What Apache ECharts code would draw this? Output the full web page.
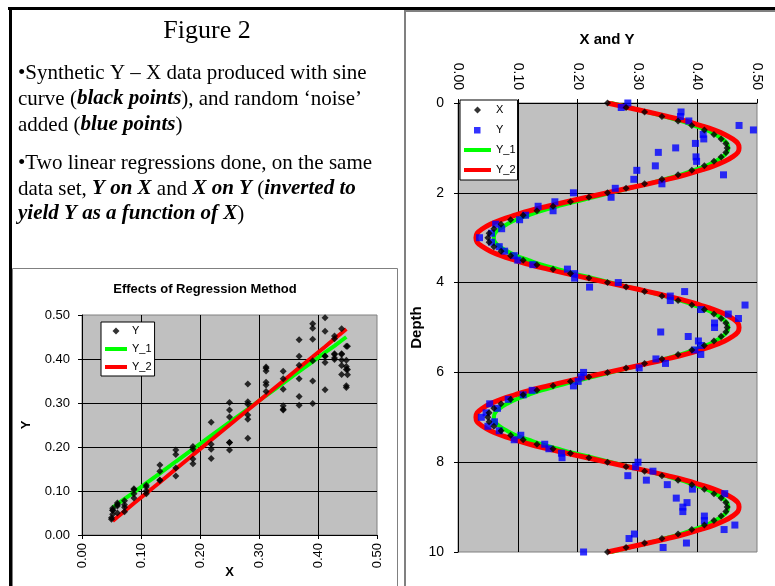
<!DOCTYPE html>
<html><head><meta charset="utf-8">
<script src="https://cdn.jsdelivr.net/npm/echarts/dist/echarts.min.js"></script>
<style>html,body{margin:0;padding:0;background:#fff}#c{width:775px;height:586px}</style>
</head><body><div id="c"></div>
<script>
// ---- data ----
const depth = [0,0.1,0.2,0.3,0.4,0.5,0.6,0.7,0.8,0.9,1,1.1,1.2,1.3,1.4,1.5,1.6,1.7,1.8,1.9,2,2.1,2.2,2.3,2.4,2.5,2.6,2.7,2.8,2.9,3,3.1,3.2,3.3,3.4,3.5,3.6,3.7,3.8,3.9,4,4.1,4.2,4.3,4.4,4.5,4.6,4.7,4.8,4.9,5,5.1,5.2,5.3,5.4,5.5,5.6,5.7,5.8,5.9,6,6.1,6.2,6.3,6.4,6.5,6.6,6.7,6.8,6.9,7,7.1,7.2,7.3,7.4,7.5,7.6,7.7,7.8,7.9,8,8.1,8.2,8.3,8.4,8.5,8.6,8.7,8.8,8.9,9,9.1,9.2,9.3,9.4,9.5,9.6,9.7,9.8,9.9,10];

// black points: synthetic sine data
const X = [0.250,0.281,0.312,0.341,0.368,0.391,0.412,0.428,0.440,0.448,0.450,
 0.448,0.440,0.428,0.412,0.391,0.368,0.341,0.312,0.281,0.250,
 0.219,0.188,0.159,0.132,0.109,0.088,0.072,0.060,0.052,0.050,
 0.052,0.060,0.072,0.088,0.109,0.132,0.159,0.188,0.219,0.250,
 0.281,0.312,0.341,0.368,0.391,0.412,0.428,0.440,0.448,0.450,
 0.448,0.440,0.428,0.412,0.391,0.368,0.341,0.312,0.281,0.250,
 0.219,0.188,0.159,0.132,0.109,0.088,0.072,0.060,0.052,0.050,
 0.052,0.060,0.072,0.088,0.109,0.132,0.159,0.188,0.219,0.250,
 0.281,0.312,0.341,0.368,0.391,0.412,0.428,0.440,0.448,0.450,
 0.448,0.440,0.428,0.412,0.391,0.368,0.341,0.312,0.281,0.250];

// blue points: data with noise
const Y = [0.284,0.273,0.373,0.372,0.386,0.470,0.494,0.410,0.411,0.397,
 0.364,0.335,0.398,0.399,0.330,0.299,0.444,0.294,0.341,0.263,
 0.193,0.256,0.162,0.134,0.159,0.113,0.103,0.063,0.073,0.056,
 0.036,0.056,0.069,0.078,0.094,0.100,0.125,0.183,0.195,0.195,
 0.268,0.220,0.379,0.355,0.355,0.480,0.406,0.452,0.469,0.429,
 0.429,0.339,0.385,0.402,0.406,0.396,0.406,0.331,0.347,0.303,
 0.210,0.206,0.201,0.193,0.124,0.109,0.084,0.053,0.066,0.047,
 0.039,0.061,0.050,0.069,0.105,0.094,0.145,0.152,0.173,0.174,
 0.301,0.297,0.326,0.284,0.315,0.350,0.392,0.446,0.365,0.383,
 0.376,0.376,0.412,0.412,0.463,0.445,0.295,0.286,0.382,0.343,
 0.210];

// regression Y on X
const Y_1 = [0.256,0.286,0.317,0.345,0.372,0.394,0.415,0.430,0.442,0.450,0.452,
 0.450,0.442,0.430,0.415,0.394,0.372,0.345,0.317,0.286,0.256,
 0.226,0.195,0.167,0.140,0.118,0.097,0.082,0.070,0.062,0.060,
 0.062,0.070,0.082,0.097,0.118,0.140,0.167,0.195,0.226,0.256,
 0.286,0.317,0.345,0.372,0.394,0.415,0.430,0.442,0.450,0.452,
 0.450,0.442,0.430,0.415,0.394,0.372,0.345,0.317,0.286,0.256,
 0.226,0.195,0.167,0.140,0.118,0.097,0.082,0.070,0.062,0.060,
 0.062,0.070,0.082,0.097,0.118,0.140,0.167,0.195,0.226,0.256,
 0.286,0.317,0.345,0.372,0.394,0.415,0.430,0.442,0.450,0.452,
 0.450,0.442,0.430,0.415,0.394,0.372,0.345,0.317,0.286,0.256];

// regression X on Y (inverted)
const Y_2 = [0.250,0.284,0.318,0.350,0.380,0.405,0.428,0.446,0.459,0.468,0.470,
 0.468,0.459,0.446,0.428,0.405,0.380,0.350,0.318,0.284,0.250,
 0.216,0.182,0.150,0.120,0.095,0.072,0.054,0.041,0.032,0.030,
 0.032,0.041,0.054,0.072,0.095,0.120,0.150,0.182,0.216,0.250,
 0.284,0.318,0.350,0.380,0.405,0.428,0.446,0.459,0.468,0.470,
 0.468,0.459,0.446,0.428,0.405,0.380,0.350,0.318,0.284,0.250,
 0.216,0.182,0.150,0.120,0.095,0.072,0.054,0.041,0.032,0.030,
 0.032,0.041,0.054,0.072,0.095,0.120,0.150,0.182,0.216,0.250,
 0.284,0.318,0.350,0.380,0.405,0.428,0.446,0.459,0.468,0.470,
 0.468,0.459,0.446,0.428,0.405,0.380,0.350,0.318,0.284,0.250];

const valueAxisRange = [0, 0.5, 0.1];
const depthAxisRange = [0, 10, 2];

const textLines = [
 '{n|•Synthetic Y – X data produced with sine}',
 '{n|curve (}{bk|black points}{n|), and random ‘noise’}',
 '{n|added (}{bl|blue points}{n|)}',
 '{n|•Two linear regressions done, on the same}',
 '{n|data set, }{g|Y on X}{n| and }{r|X on Y}{n| (}{r|inverted to}',
 '{r|yield Y as a function of X}{n|)}'
];
const textY = [73.5, 99, 125, 163, 189, 214];

// ---- chart ----
const SANS = 'Liberation Sans', SERIF = 'Liberation Serif';
const serifStyle = (c, bold) => ({fontFamily: SERIF, fontSize: 21, color: c,
  fontWeight: bold ? 'bold' : 'normal', fontStyle: bold ? 'italic' : 'normal'});
const rich = {n: serifStyle('#000', false), bk: serifStyle('#000', true),
  bl: serifStyle('#1f3fa3', true), g: serifStyle('#1aaa4a', true), r: serifStyle('#c00000', true)};

const graphic = [
  {type:'rect', shape:{x:8, y:7, width:767, height:3}, style:{fill:'#000'}},
  {type:'rect', shape:{x:9, y:7, width:3, height:579}, style:{fill:'#000'}},
  {type:'rect', shape:{x:404, y:10, width:371, height:2}, style:{fill:'#808080'}},
  {type:'rect', shape:{x:404, y:10, width:2, height:576}, style:{fill:'#808080'}},
  {type:'rect', shape:{x:12.5, y:268.5, width:385, height:330}, style:{fill:'none', stroke:'#808080', lineWidth:1}},
  {type:'text', x:207, y:31, style:{text:'Figure 2', fontFamily:SERIF, fontSize:26, fill:'#000', textAlign:'center', textVerticalAlign:'middle'}},
  {type:'text', x:205, y:289, style:{text:'Effects of Regression Method', fontFamily:SANS, fontSize:13, fontWeight:'bold', fill:'#000', textAlign:'center', textVerticalAlign:'middle'}},
  {type:'text', x:607, y:40, style:{text:'X and Y', fontFamily:SANS, fontSize:15, fontWeight:'bold', fill:'#000', textAlign:'center', textVerticalAlign:'middle'}}
];
textLines.forEach((t, i) => graphic.push({type:'text', x:18, y:textY[i],
  style:{text:t, rich:rich, textAlign:'left', textVerticalAlign:'middle'}}));

// legend icons (invisible moveTo points fix the icon box so shapes keep their size)
const diamondIcon = w => `path://M0 0 M${w} 7 M${w/2} 0 L${w/2+3.5} 3.5 L${w/2} 7 L${w/2-3.5} 3.5 Z`;
const squareIcon = w => `path://M0 0 M${w} 7 M${w/2-3.5} 0.5 L${w/2+3} 0.5 L${w/2+3} 7 L${w/2-3.5} 7 Z`;
const barIcon = w => `path://M0 0 M${w} 7 M0 1.5 L${w} 1.5 L${w} 5.5 L0 5.5 Z`;

const lbl = (fs) => ({fontFamily:SANS, fontSize:fs, color:'#000'});
const fmt2 = v => v.toFixed(2);
const axisCommon = {
  type:'value',
  axisLine:{show:true, onZero:false, lineStyle:{color:'#000', width:1}},
  axisTick:{show:true, length:4, lineStyle:{color:'#000'}},
  splitLine:{show:true, showMinLine:false, showMaxLine:false, lineStyle:{color:'#000', width:1}},
  nameTextStyle:{fontFamily:SANS, fontWeight:'bold', color:'#000'}
};
const legendText = {fontFamily:SANS, fontSize:11, lineHeight:12, color:'#000'};

const option = {
  animation:false,
  backgroundColor:'#fff',
  graphic:graphic,
  grid:[
    {left:82, top:315, width:295, height:220, show:true, backgroundColor:'#c0c0c0', borderColor:'#808080', borderWidth:1, outerBoundsMode:'none', containLabel:false},
    {left:458, top:103, width:299, height:449, show:true, backgroundColor:'#c0c0c0', borderColor:'#808080', borderWidth:1, outerBoundsMode:'none', containLabel:false}
  ],
  xAxis:[
    Object.assign({}, axisCommon, {gridIndex:0, position:'bottom', min:valueAxisRange[0], max:valueAxisRange[1], interval:valueAxisRange[2],
      axisLabel:Object.assign(lbl(13), {rotate:90, margin:8, formatter:fmt2}),
      name:'X', nameLocation:'middle', nameGap:31, nameMoveOverlap:false, nameTextStyle:{fontFamily:SANS, fontWeight:'bold', fontSize:13, color:'#000'}}),
    Object.assign({}, axisCommon, {gridIndex:1, position:'top', min:valueAxisRange[0], max:valueAxisRange[1], interval:valueAxisRange[2],
      axisLabel:Object.assign(lbl(14), {rotate:90, margin:13, formatter:fmt2})})
  ],
  yAxis:[
    Object.assign({}, axisCommon, {gridIndex:0, min:valueAxisRange[0], max:valueAxisRange[1], interval:valueAxisRange[2],
      axisLabel:Object.assign(lbl(13), {margin:12, formatter:fmt2}),
      name:'Y', nameLocation:'middle', nameGap:49, nameRotate:90, nameTextStyle:{fontFamily:SANS, fontWeight:'bold', fontSize:13, color:'#000'}}),
    Object.assign({}, axisCommon, {gridIndex:1, inverse:true, min:depthAxisRange[0], max:depthAxisRange[1], interval:depthAxisRange[2],
      axisLabel:Object.assign(lbl(14), {margin:14}),
      name:'Depth', nameLocation:'middle', nameGap:30, nameRotate:90, nameTextStyle:{fontFamily:SANS, fontWeight:'bold', fontSize:15, color:'#000'}})
  ],
  legend:[
    {left:101, top:322, orient:'vertical', selectedMode:false, padding:[3,3,3,4], itemGap:6, itemWidth:22, itemHeight:7,
     backgroundColor:'#fff', borderColor:'#000', borderWidth:1, textStyle:legendText,
     data:[{name:'Y', icon:diamondIcon(22), itemStyle:{color:'#000'}},
           {name:'Y_1', icon:barIcon(22), itemStyle:{color:'#00ff00'}},
           {name:'Y_2', icon:barIcon(22), itemStyle:{color:'#ff0000'}}]},
    {left:460, top:100, orient:'vertical', selectedMode:false, padding:[4,2,4,4], itemGap:8, itemWidth:27, itemHeight:7,
     backgroundColor:'#fff', borderColor:'#000', borderWidth:1, textStyle:legendText,
     data:[{name:'X', icon:diamondIcon(27), itemStyle:{color:'#000'}},
           {name:'Y', icon:squareIcon(27), itemStyle:{color:'#0000ff'}},
           {name:'Y_1', icon:barIcon(27), itemStyle:{color:'#00ff00'}},
           {name:'Y_2', icon:barIcon(27), itemStyle:{color:'#ff0000'}}]}
  ],
  series:[
    // left chart
    {name:'Y_1', type:'line', xAxisIndex:0, yAxisIndex:0, symbol:'none', z:2,
     lineStyle:{color:'#00ff00', width:4}, itemStyle:{color:'#00ff00'},
     data:X.map((x, i) => [x, Y_1[i]])},
    {name:'Y_2', type:'line', xAxisIndex:0, yAxisIndex:0, symbol:'none', z:2,
     lineStyle:{color:'#ff0000', width:4}, itemStyle:{color:'#ff0000'},
     data:X.map((x, i) => [x, Y_2[i]])},
    {name:'Y', type:'scatter', xAxisIndex:0, yAxisIndex:0, symbol:'diamond', symbolSize:7, z:4,
     itemStyle:{color:'#000'}, data:X.map((x, i) => [x, Y[i]])},
    // right chart
    {name:'Y_1', type:'line', xAxisIndex:1, yAxisIndex:1, symbol:'none', smooth:0.4, z:2,
     lineStyle:{color:'#00ff00', width:4}, itemStyle:{color:'#00ff00'},
     data:Y_1.map((v, i) => [v, depth[i]])},
    {name:'Y_2', type:'line', xAxisIndex:1, yAxisIndex:1, symbol:'none', smooth:0.4, z:2,
     lineStyle:{color:'#ff0000', width:5}, itemStyle:{color:'#ff0000'},
     data:Y_2.map((v, i) => [v, depth[i]])},
    {name:'Y', type:'scatter', xAxisIndex:1, yAxisIndex:1, symbol:'rect', symbolSize:7, z:3,
     itemStyle:{color:'#0000ff'}, data:Y.map((v, i) => [v, depth[i]])},
    {name:'X', type:'scatter', xAxisIndex:1, yAxisIndex:1, symbol:'diamond', symbolSize:7, z:4,
     itemStyle:{color:'#000'}, data:X.map((v, i) => [v, depth[i]])}
  ]
};
const chart = echarts.init(document.getElementById('c'), null, {renderer:'canvas'});
chart.setOption(option);
</script></body></html>
